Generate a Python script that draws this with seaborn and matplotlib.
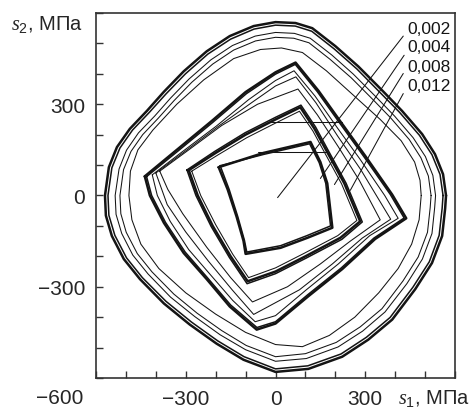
import matplotlib
matplotlib.use("Agg")
import matplotlib.pyplot as plt
import pandas as pd
import seaborn as sns
from matplotlib.ticker import MultipleLocator

# stress paths (s1, s2), MPa
# 0.012 - saturated outer loops
outer_1 = [(570, 0), (567, -43), (557, -133), (523, -222), (467, -308), (390, -408), (310, -474),
           (223, -530), (110, -570), (0, -580), (-107, -540), (-197, -487), (-287, -424), (-373, -355),
           (-453, -275), (-507, -209), (-547, -133), (-567, -66), (-570, 0), (-557, 93), (-530, 159),
           (-487, 219), (-430, 278), (-373, 341), (-307, 408), (-230, 474), (-153, 524), (-73, 557),
           (0, 570), (67, 567), (123, 550), (200, 491), (277, 424), (357, 345), (423, 278), (490, 202),
           (533, 136), (560, 70), (570, 0)]
outer_2 = [(560, 0), (557, -42), (547, -131), (514, -218), (459, -302), (383, -401), (304, -466),
           (219, -521), (108, -560), (0, -570), (-105, -530), (-193, -478), (-281, -416), (-366, -348),
           (-445, -270), (-498, -205), (-537, -131), (-557, -65), (-560, 0), (-547, 91), (-520, 156),
           (-478, 215), (-422, 273), (-366, 334), (-301, 400), (-226, 465), (-150, 514), (-72, 547),
           (0, 560), (66, 557), (121, 540), (196, 482), (272, 416), (350, 338), (415, 273), (481, 198),
           (523, 134), (550, 69), (560, 0)]
outer_3 = [(535, 0), (532, -40), (523, -125), (491, -209), (439, -290), (366, -383), (291, -446),
           (209, -498), (103, -536), (0, -545), (-100, -507), (-185, -458), (-270, -398), (-351, -334),
           (-426, -258), (-477, -196), (-514, -125), (-533, -62), (-536, 0), (-523, 87), (-498, 149),
           (-458, 206), (-404, 261), (-351, 320), (-289, 383), (-216, 446), (-144, 493), (-68, 524),
           (0, 536), (63, 533), (116, 517), (188, 462), (260, 399), (336, 324), (398, 261), (460, 190),
           (501, 128), (526, 66), (535, 0)]
outer_4 = [(520, 0), (517, -40), (508, -121), (477, -202), (426, -281), (356, -372), (283, -432),
           (203, -483), (100, -520), (0, -530), (-98, -493), (-180, -444), (-262, -387), (-340, -324),
           (-413, -251), (-462, -191), (-499, -121), (-517, -60), (-520, 0), (-508, 85), (-483, 145),
           (-444, 200), (-392, 254), (-340, 311), (-280, 372), (-210, 432), (-140, 478), (-67, 508),
           (0, 520), (61, 517), (112, 502), (182, 448), (253, 387), (326, 315), (386, 254), (447, 184),
           (486, 124), (511, 64), (520, 0)]
outer_5 = [(487, 0), (480, -80), (455, -160), (410, -240), (345, -320), (265, -400), (180, -460),
           (90, -497), (0, -490), (-100, -450), (-200, -390), (-300, -320), (-390, -240), (-450, -160),
           (-480, -80), (-490, 0), (-485, 80), (-460, 150), (-410, 215), (-330, 300), (-240, 380),
           (-140, 450), (-50, 480), (20, 485), (90, 470), (170, 410), (260, 330), (350, 250),
           (420, 180), (465, 110), (483, 50), (487, 0)]

# 0.008
mid_1 = [(-437, 63), (-330, 150), (-213, 245), (-100, 340), (0, 405), (67, 437), (143, 345),
         (223, 235), (300, 130), (390, 3), (437, -75), (333, -143), (223, -242), (110, -331),
         (0, -421), (-63, -441), (-153, -365), (-230, -275), (-307, -189), (-373, -90), (-420, 0),
         (-437, 63)]
mid_2 = [(-431, 62), (-325, 147), (-209, 241), (-97, 335), (0, 399), (66, 431), (140, 341),
         (219, 232), (296, 127), (384, 3), (430, -74), (329, -140), (220, -238), (108, -326),
         (0, -415), (-62, -434), (-150, -360), (-227, -271), (-302, -186), (-368, -88), (-414, 0),
         (-431, 62)]
mid_3 = [(-412, 68), (-310, 145), (-198, 228), (-90, 315), (0, 378), (62, 410), (132, 327),
         (207, 222), (282, 120), (365, 0), (410, -75), (315, -132), (210, -225), (103, -310),
         (0, -395), (-68, -415), (-143, -345), (-218, -260), (-290, -178), (-352, -85), (-395, 0),
         (-412, 68)]
mid_4 = [(-400, 74), (-300, 147), (-190, 228), (-80, 305), (0, 360), (68, 390), (135, 305),
         (208, 195), (285, 85), (385, -78), (290, -140), (190, -225), (80, -310), (-73, -391),
         (-145, -310), (-225, -215), (-300, -120), (-362, -30), (-400, 74)]
mid_5 = [(-387, 80), (-290, 150), (-180, 230), (-60, 300), (75, 350), (140, 265), (210, 160),
         (280, 50), (350, -80), (250, -150), (150, -225), (40, -300), (-77, -350), (-150, -270),
         (-230, -170), (-310, -60), (-360, 20), (-387, 80)]

# 0.004
small_1 = [(-290, 83), (-200, 140), (-100, 200), (0, 250), (83, 290), (130, 220), (180, 130),
           (230, 40), (283, -85), (217, -139), (100, -200), (0, -250), (-93, -282), (-150, -200),
           (-210, -100), (-260, 0), (-290, 83)]
small_2 = [(-296, 84), (-203, 145), (-102, 206), (0, 257), (85, 297), (134, 225), (185, 132),
           (236, 40), (290, -87), (222, -144), (102, -206), (0, -257), (-95, -290), (-154, -204),
           (-215, -102), (-266, 0), (-296, 84)]
small_3 = [(-280, 80), (-193, 133), (-96, 190), (0, 238), (80, 277), (125, 212), (173, 125),
           (221, 38), (272, -82), (208, -132), (96, -190), (0, -238), (-90, -270), (-143, -193),
           (-200, -96), (-250, 0), (-280, 80)]

# 0.002
inner_1 = [(-190, 93), (-160, 20), (-130, -70), (-107, -149), (-100, -192), (17, -172), (107, -139),
           (190, -106), (173, 40), (150, 110), (117, 176), (-40, 140), (-190, 93)]
inner_2 = [(-185, 98), (-155, 20), (-126, -70), (-104, -147), (-96, -186), (17, -165), (105, -132),
           (184, -100), (168, 40), (146, 108), (114, 170), (-40, 135), (-185, 98)]

# transitions between amplitude levels
step_a = [(-60, 143), (172, 143)]
step_b = [(-17, 242), (222, 242)]

thick_curves = ["outer_1", "mid_1", "small_1", "inner_1"]
medium_curves = ["outer_2", "mid_2", "small_2", "inner_2"]

# amplitude labels and leader lines
amp_labels = ["0,002", "0,004", "0,008", "0,012"]
label_y = [550, 491, 424, 361]
leader_start = [(427, 524), (430, 461), (427, 401), (427, 335)]
leader_end = [(7, -7), (150, 56), (197, 36), (250, 17)]


def main() -> None:
    curves = {
        "outer_1": outer_1, "outer_2": outer_2, "outer_3": outer_3, "outer_4": outer_4,
        "outer_5": outer_5,
        "mid_1": mid_1, "mid_2": mid_2, "mid_3": mid_3, "mid_4": mid_4, "mid_5": mid_5,
        "small_1": small_1, "small_2": small_2, "small_3": small_3,
        "inner_1": inner_1, "inner_2": inner_2,
        "step_a": step_a, "step_b": step_b,
    }
    rows = []
    for name, pts in curves.items():
        if name in thick_curves:
            weight = "thick"
        elif name in medium_curves:
            weight = "medium"
        else:
            weight = "thin"
        for i, (x, y) in enumerate(pts):
            rows.append((name, i, x, y, weight))
    paths = pd.DataFrame(rows, columns=["curve", "step", "s1", "s2", "weight"])

    lead_rows = []
    for lab, a, b in zip(amp_labels, leader_start, leader_end):
        lead_rows.append((lab, 0, a[0], a[1]))
        lead_rows.append((lab, 1, b[0], b[1]))
    leaders = pd.DataFrame(lead_rows, columns=["amp", "step", "s1", "s2"])

    sns.set_theme(style="ticks")
    plt.rcParams["font.family"] = ["Liberation Sans", "DejaVu Sans"]
    plt.rcParams["mathtext.fontset"] = "custom"
    plt.rcParams["mathtext.it"] = "Liberation Serif:italic"
    plt.rcParams["mathtext.rm"] = "Liberation Sans"

    fig = plt.figure(figsize=(4.76, 4.10), dpi=100)
    ax = fig.add_axes([0.2017, 0.0756, 0.7542, 0.8903])

    ink = "#141414"
    widths = {"thin": 0.75, "medium": 1.1, "thick": 1.8}
    for weight, lw in widths.items():
        sns.lineplot(data=paths[paths.weight == weight], x="s1", y="s2", units="curve",
                     estimator=None, sort=False, color=ink, lw=lw, ax=ax)
    sns.lineplot(data=leaders, x="s1", y="s2", units="amp", estimator=None, sort=False,
                 color=ink, lw=0.75, ax=ax)

    for lab, y in zip(amp_labels, label_y):
        ax.text(440, y, lab, fontsize=12.5, ha="left", va="center", color=ink)

    ax.set_xlim(-600, 600)
    ax.set_ylim(-600, 600)
    ax.set_xticks([-300, 0, 300])
    ax.set_yticks([-300, 0, 300])
    ax.xaxis.set_minor_locator(MultipleLocator(100))
    ax.yaxis.set_minor_locator(MultipleLocator(100))
    ax.tick_params(which="both", direction="in", length=5, width=1, color="#333333",
                   top=False, right=False, labelsize=15, pad=8)
    for sp in ax.spines.values():
        sp.set_color("#333333")
        sp.set_linewidth(1.2)
    ax.set_xlabel("")
    ax.set_ylabel("")

    ax.annotate("\u2212600", xy=(0, 0), xycoords="axes fraction", xytext=(-13, -19),
                textcoords="offset pixels", ha="right", va="center", fontsize=15)
    ax.annotate("$s_1$, МПа", xy=(1, 0), xycoords="axes fraction", xytext=(-57, -19),
                textcoords="offset pixels", ha="left", va="center", fontsize=14.5)
    ax.annotate("$s_2$, МПа", xy=(0, 1), xycoords="axes fraction", xytext=(-13, -11),
                textcoords="offset pixels", ha="right", va="center", fontsize=14.5)

    fig.savefig("out.png", dpi=100, facecolor="white")
    plt.close(fig)


if __name__ == "__main__":
    main()
